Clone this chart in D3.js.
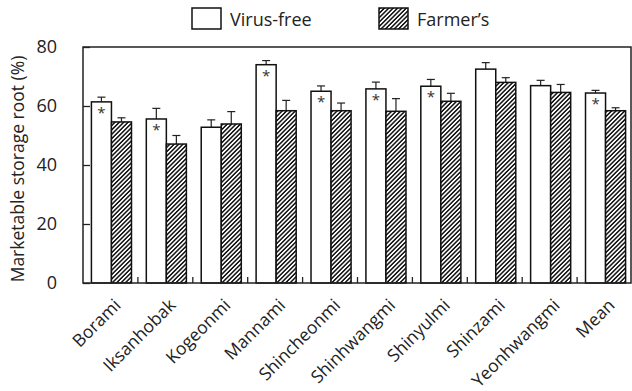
<!DOCTYPE html>
<html>
<head>
<meta charset="utf-8">
<script src="https://cdn.jsdelivr.net/npm/d3@7"></script>
<style>
  body { margin: 0; background: #fff; }
  svg { font-family: 'Open Sans', 'Noto Sans', sans-serif; }
</style>
</head>
<body>
<div class="container"></div>
<script>
const cultivars = ['Borami', 'Iksanhobak', 'Kogeonmi', 'Mannami', 'Shincheonmi',
  'Shinhwangmi', 'Shinyulmi', 'Shinzami', 'Yeonhwangmi', 'Mean']
const virusFree = [61.4, 55.6, 52.8, 74.0, 65.0, 65.8, 66.7, 72.5, 66.9, 64.4]
const virusFreeErr = [1.6, 3.6, 2.5, 1.4, 1.8, 2.3, 2.3, 2.2, 1.8, 0.9]
const farmers = [54.6, 47.1, 53.9, 58.4, 58.4, 58.2, 61.6, 68.0, 64.6, 58.4]
const farmersErr = [1.4, 2.9, 4.2, 3.5, 2.6, 4.3, 2.7, 1.6, 2.7, 1.0]
const significant = [true, true, false, true, true, true, true, false, false, true]
const yTicks = [0, 20, 40, 60, 80]
const seriesNames = ['Virus-free', 'Farmer\u2019s']

;(function () {
  var W = 632
  var H = 391
  var left = 83
  var right = 632
  var top = 47
  var bottom = 283

  var svg = d3.select('.container')
              .append('svg')
              .attr('width', W)
              .attr('height', H)

  // hatch pattern
  var defs = svg.append('defs')
  defs.append('pattern')
      .attr('id', 'hatch')
      .attr('patternUnits', 'userSpaceOnUse')
      .attr('width', 3.1)
      .attr('height', 3.1)
      .attr('patternTransform', 'rotate(45)')
      .call(function (p) {
        p.append('rect').attr('width', 3.1).attr('height', 3.1).attr('fill', '#fff')
        p.append('line')
         .attr('x1', 0.8).attr('y1', 0).attr('x2', 0.8).attr('y2', 3.1)
         .attr('stroke', '#111').attr('stroke-width', 1.5)
      })

  var x0 = d3.scaleBand()
             .domain(cultivars)
             .range([left + 1, right + 1])
             .paddingInner(0.27)
             .paddingOuter(0.135)

  var x1 = d3.scaleBand()
             .domain([0, 1])
             .range([0, x0.bandwidth()])

  var y = d3.scaleLinear()
            .domain([0, 80])
            .range([bottom, top])

  // y axis ticks (inward) and labels
  var yAxis = d3.axisLeft(y)
                .tickValues(yTicks)
                .tickSize(-7)
                .tickPadding(26)
  svg.append('g')
     .attr('class', 'y')
     .attr('transform', 'translate(' + left + ',0)')
     .call(yAxis)
     .call(function (g) {
       g.select('.domain').remove()
       g.selectAll('.tick line').attr('stroke', '#222').attr('stroke-width', 1.3)
       g.selectAll('.tick text')
        .attr('font-size', 18)
        .attr('fill', '#222')
        .attr('font-family', "'Open Sans', sans-serif")
     })

  // x axis: small inward ticks between groups, rotated labels
  var boundaries = cultivars.slice(1).map(function (c) {
    return x0(c) - x0.step() * x0.paddingInner() / 2 - 1
  })
  svg.append('g')
     .selectAll('line')
     .data(boundaries)
     .enter()
     .append('line')
     .attr('x1', function (d) { return d })
     .attr('x2', function (d) { return d })
     .attr('y1', bottom)
     .attr('y2', bottom - 6)
     .attr('stroke', '#222')
     .attr('stroke-width', 1.3)

  svg.append('g')
     .selectAll('text')
     .data(cultivars)
     .enter()
     .append('text')
     .attr('text-anchor', 'end')
     .attr('font-size', 17.5)
     .attr('fill', '#222')
     .attr('transform', function (d) {
       var cx = x0(d) + x0.bandwidth() / 2
       return 'translate(' + (cx + 6) + ',' + (bottom + 19) + ') rotate(-45)'
     })
     .attr('dy', '0.35em')
     .text(function (d) { return d })

  // bars
  var groups = svg.append('g')
                  .selectAll('.group')
                  .data(cultivars)
                  .enter()
                  .append('g')
                  .attr('class', 'group')
                  .attr('transform', function (d) {
                    return 'translate(' + x0(d) + ',0)'
                  })

  groups.each(function (d, i) {
    var g = d3.select(this)
    var vals = [virusFree[i], farmers[i]]
    var errs = [virusFreeErr[i], farmersErr[i]]
    vals.forEach(function (v, s) {
      var bx = x1(s)
      var bw = x1.bandwidth()
      var cx = bx + bw / 2
      // error bar
      g.append('line')
       .attr('x1', cx).attr('x2', cx)
       .attr('y1', y(v)).attr('y2', y(v + errs[s]))
       .attr('stroke', '#222').attr('stroke-width', 1.2)
      g.append('line')
       .attr('x1', cx - 4).attr('x2', cx + 4)
       .attr('y1', y(v + errs[s])).attr('y2', y(v + errs[s]))
       .attr('stroke', '#222').attr('stroke-width', 1.2)
      g.append('rect')
       .attr('x', bx)
       .attr('y', y(v))
       .attr('width', bw)
       .attr('height', y(0) - y(v))
       .attr('fill', s === 0 ? '#fff' : 'url(#hatch)')
       .attr('stroke', '#111')
       .attr('stroke-width', 1.5)
    })
    if (significant[i]) {
      g.append('text')
       .attr('x', x1(0) + x1.bandwidth() / 2)
       .attr('y', y(vals[0]) + 16)
       .attr('text-anchor', 'middle')
       .attr('font-size', 15)
       .attr('fill', '#333')
       .text('*')
    }
  })

  // frame
  svg.append('rect')
     .attr('x', left)
     .attr('y', top)
     .attr('width', right - 1 - left)
     .attr('height', bottom - top)
     .attr('fill', 'none')
     .attr('stroke', '#222')
     .attr('stroke-width', 1.5)

  // y axis title
  svg.append('text')
     .attr('transform', 'translate(24,' + ((top + bottom) / 2 + 4) + ') rotate(-90)')
     .attr('text-anchor', 'middle')
     .attr('font-size', 17.5)
     .attr('fill', '#222')
     .text('Marketable storage root (%)')

  // legend
  var legendX = [192, 379]
  var legend = svg.append('g')
                  .selectAll('.legendItem')
                  .data(seriesNames)
                  .enter()
                  .append('g')
                  .attr('class', 'legendItem')
                  .attr('transform', function (d, i) {
                    return 'translate(' + legendX[i] + ',8)'
                  })
  legend.append('rect')
        .attr('width', 29)
        .attr('height', 21)
        .attr('fill', function (d, i) { return i === 0 ? '#fff' : 'url(#hatch)' })
        .attr('stroke', '#111')
        .attr('stroke-width', 1.5)
  legend.append('text')
        .attr('x', 38)
        .attr('y', 18)
        .attr('font-size', 18)
        .attr('fill', '#222')
        .text(function (d) { return d })
}())
</script>
</body>
</html>
